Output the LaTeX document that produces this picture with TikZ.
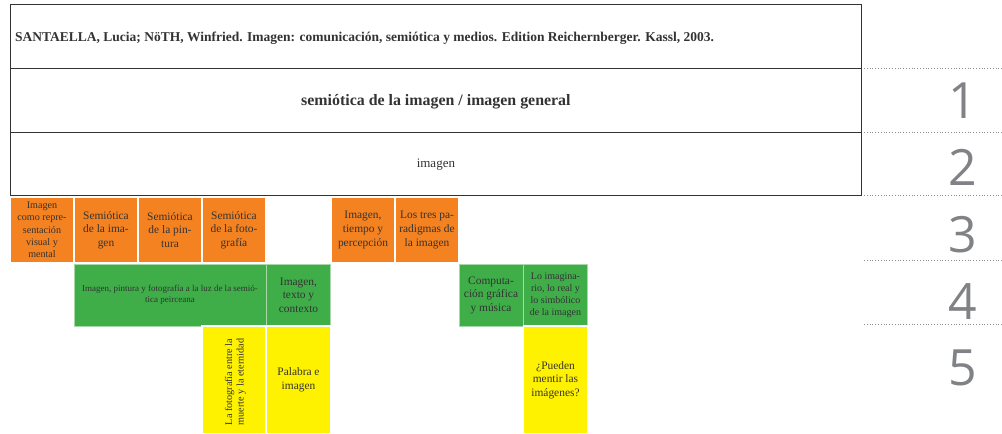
\documentclass[tikz,border=0pt]{standalone}
\usepackage{fontspec}
\setmainfont{Liberation Serif}
\newfontfamily\numfont{Open Sans}
\definecolor{org}{HTML}{F58220}
\definecolor{grn}{HTML}{3FAE49}
\definecolor{grnb}{HTML}{A8D8A8}
\definecolor{ylw}{HTML}{FFF200}
\definecolor{txt}{HTML}{333333}
\definecolor{numc}{HTML}{808285}
\begin{document}
\begin{tikzpicture}[x=1pt,y=-1pt,
  row/.style={draw=black!80, line width=0.8pt, anchor=north west, inner sep=0pt, minimum width=851pt},
  cell/.style={inner sep=0pt, outer sep=0pt, align=center, text=txt},
  obox/.style={cell, fill=org, draw=white, line width=1.5pt, minimum width=64pt, minimum height=66pt, font=\fontsize{11.4}{13.7}\selectfont},
  gbox/.style={cell, fill=grn, draw=grnb, line width=1pt, minimum height=62pt, font=\fontsize{11.4}{13.5}\selectfont},
  ybox/.style={cell, fill=ylw, draw=white, line width=1.5pt, minimum height=108pt, font=\fontsize{11.4}{13.7}\selectfont},
  numst/.style={font=\numfont\fontsize{50}{50}\selectfont, text=numc, inner sep=0pt},
  sep/.style={dotted, line width=0.8pt, draw=black!45}
]
\useasboundingbox (0,0) rectangle (1002,434);
% row 3 orange
\node[obox, font=\fontsize{10.1}{12.3}\selectfont] (b1) at (42,230) {Imagen\\como repre-\\sentación\\visual y\\mental};
\node[obox] (b2) at (106,230) {Semiótica\\de la ima-\\gen};
\node[obox] (b3) at (170,230) {Semiótica\\de la pin-\\tura};
\node[obox] (b4) at (234,230) {Semiótica\\de la foto-\\grafía};
\node[obox] (b5) at (363,230) {Imagen,\\tiempo y\\percepción};
\node[obox] (b6) at (427,230) {Los tres pa-\\radigmas de\\la imagen};
% row 4 green
\node[gbox, minimum width=192pt, font=\fontsize{9}{11.5}\selectfont] (gA) at (170,295) {Imagen, pintura y fotografía a la luz de la semió-\\tica peirceana};
\node[gbox, minimum width=64pt] (gB) at (298.5,295) {Imagen,\\texto y\\contexto};
\node[gbox, minimum width=64pt] (gC) at (491,295) {Computa-\\ción gráfica\\y música};
\node[gbox, minimum width=64pt, font=\fontsize{10}{11.9}\selectfont] (gD) at (555.5,295) {Lo imagina-\\rio, lo real y\\lo simbólico\\de la imagen};
% row 5 yellow
\node[ybox, minimum width=64pt] (yE) at (234,380) {};
\node[cell, rotate=90, font=\fontsize{10.2}{11.5}\selectfont] (yEt) at (235.5,382) {La fotografía entre la\\muerte y la eternidad};
\node[ybox, minimum width=64pt] (yF) at (298.5,380) {Palabra e\\imagen};
\node[ybox, minimum width=64pt] (yG) at (555.5,380) {¿Pueden\\mentir las\\imágenes?};
% table rows
\node[row, minimum height=64pt] (r0) at (10,4) {};
\node[row, minimum height=64pt] (r1) at (10,68) {};
\node[row, minimum height=63pt] (r2) at (10,132) {};
\node[anchor=west, inner sep=0pt, font=\bfseries\fontsize{13.5}{15}\selectfont, text=txt] (t0) at ([xshift=5pt,yshift=-2pt]r0.west) {SANTAELLA, Lucia; NöTH, Winfried. Imagen: comunicación, semiótica y medios. Edition Reichernberger. Kassl, 2003.};
\node[inner sep=0pt, font=\bfseries\fontsize{15.9}{18}\selectfont, text=txt] (t1) at ([yshift=-1pt]r1.center) {semiótica de la imagen / imagen general};
\node[inner sep=0pt, font=\fontsize{13}{15}\selectfont, text=txt] (t2) at ([yshift=-1pt]r2.center) {imagen};
% dotted separators
\coordinate (d1) at (1002,68);
\coordinate (d2) at (1002,132);
\coordinate (d3) at (1002,195);
\coordinate (d4) at (1002,260);
\coordinate (d5) at (1002,324);
\draw[sep] (864,68) -- (d1);
\draw[sep] (864,132) -- (d2);
\draw[sep] (864,195) -- (d3);
\draw[sep] (864,260) -- (d4);
\draw[sep] (864,324) -- (d5);
% numbers
\node[numst] (n1) at (963,101) {1};
\node[numst] (n2) at (963,167) {2};
\node[numst] (n3) at (963,235) {3};
\node[numst] (n4) at (963,302) {4};
\node[numst] (n5) at (963,368) {5};
\end{tikzpicture}
\end{document}
